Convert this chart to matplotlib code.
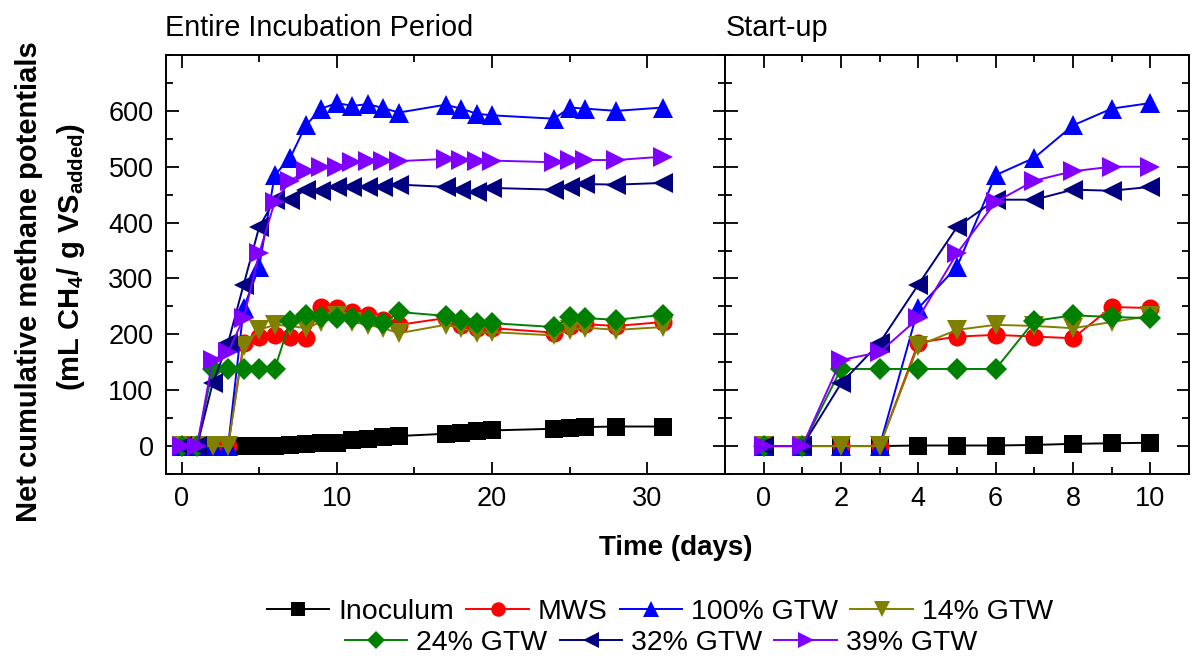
import matplotlib
matplotlib.use('Agg')
import matplotlib.pyplot as plt
from matplotlib.ticker import MultipleLocator

plt.rcParams['font.family'] = ['Liberation Sans', 'DejaVu Sans']
plt.rcParams['mathtext.default'] = 'regular'

# data
days = [0, 1, 2, 3, 4, 5, 6, 7, 8, 9, 10, 11, 12, 13, 14, 17, 18, 19, 20, 24, 25, 26, 28, 31]

inoculum = [0, 0, 0, 0, 1, 1, 1, 2, 4, 5, 6, 11, 12, 16, 18, 22, 24, 27, 28, 31, 32, 34, 35, 35]
mws = [0, 0, 0, 0, 185, 196, 199, 196, 193, 249, 247, 240, 235, 226, 217, 229, 217, 211, 211, 203, 215, 218, 215, 222]
gtw100 = [0, 0, 0, 0, 247, 321, 485, 516, 574, 604, 614, 609, 612, 605, 597, 611, 604, 595, 592, 586, 606, 604, 600, 606]
gtw14 = [0, 0, 0, 0, 180, 208, 217, 215, 211, 222, 233, 222, 217, 211, 202, 217, 211, 203, 204, 198, 208, 212, 208, 213]
gtw24 = [0, 0, 138, 138, 138, 138, 138, 224, 234, 231, 229, 229, 226, 220, 240, 233, 226, 221, 220, 213, 231, 229, 226, 235]
gtw32 = [0, 0, 112, 185, 289, 392, 441, 441, 459, 457, 464, 464, 464, 464, 468, 464, 459, 455, 462, 459, 464, 469, 468, 471]
gtw39 = [0, 0, 154, 168, 229, 345, 437, 475, 492, 500, 500, 508, 510, 510, 510, 514, 512, 511, 511, 508, 512, 512, 512, 518]

series = [
    ('Inoculum', inoculum, 'black', 's'),
    ('MWS', mws, '#ff0000', 'o'),
    ('100% GTW', gtw100, '#0000ff', '^'),
    ('14% GTW', gtw14, '#808000', 'v'),
    ('24% GTW', gtw24, '#008000', 'D'),
    ('32% GTW', gtw32, '#000080', '<'),
    ('39% GTW', gtw39, '#8000ff', '>'),
]
marker_size = {'s': 12.5, 'o': 13, '^': 14.5, 'v': 14.5, 'D': 11.5, '<': 14.5, '>': 14.5}

fig = plt.figure(figsize=(11.93, 6.66), dpi=100)
W, H = 1193, 666
top, bottom = 55, 474
ax1 = fig.add_axes([166 / W, 1 - bottom / H, (725 - 166) / W, (bottom - top) / H])
ax2 = fig.add_axes([725 / W, 1 - bottom / H, (1189 - 725) / W, (bottom - top) / H])

handles = []
n_start = 11  # days 0..10 go in the start-up panel
for label, vals, col, mk in series:
    h, = ax1.plot(days, vals, color=col, marker=mk, ms=marker_size[mk], lw=1.4,
                  markeredgewidth=0, label=label)
    ax2.plot(days[:n_start], vals[:n_start], color=col, marker=mk, ms=marker_size[mk],
             lw=1.4, markeredgewidth=0)
    handles.append(h)

ax1.set_xlim(-1, 35)
ax2.set_xlim(-1, 11)
for ax in (ax1, ax2):
    ax.set_ylim(-50, 700)
    ax.yaxis.set_major_locator(MultipleLocator(100))
    ax.yaxis.set_minor_locator(MultipleLocator(50))
    ax.tick_params(which='both', direction='in', top=True, right=True, width=1.3,
                   labelsize=19.5, pad=9)
    ax.tick_params(which='major', length=9)
    ax.tick_params(which='minor', length=5)
    for sp in ax.spines.values():
        sp.set_linewidth(1.4)

ax1.xaxis.set_major_locator(MultipleLocator(10))
ax1.xaxis.set_minor_locator(MultipleLocator(5))
ax1.set_yticks([0, 100, 200, 300, 400, 500, 600])
ax2.xaxis.set_major_locator(MultipleLocator(2))
ax2.xaxis.set_minor_locator(MultipleLocator(1))
ax2.set_xticks([0, 2, 4, 6, 8, 10])
ax2.set_yticks([0, 100, 200, 300, 400, 500, 600])
ax2.tick_params(axis='y', labelleft=False)

fig.text(165 / W, 1 - 28 / H, 'Entire Incubation Period', fontsize=20.8, ha='left', va='center')
fig.text(726 / W, 1 - 28 / H, 'Start-up', fontsize=20.8, ha='left', va='center')

fig.text(676 / W, 1 - 548 / H, 'Time (days)', fontsize=20, fontweight='bold',
         ha='center', va='center')
fig.text(29 / W, 1 - 282 / H, 'Net cumulative methane potentials', fontsize=21,
         fontweight='bold', rotation=90, ha='center', va='center')
fig.text(71 / W, 1 - 257 / H, r'(mL CH$_4$/ g VS$_{added}$)', fontsize=21,
         fontweight='bold', rotation=90, ha='center', va='center')

leg_kw = dict(frameon=False, fontsize=20.5, handlelength=2.2, handletextpad=0.32,
              columnspacing=0.42, markerscale=0.8, borderaxespad=0, borderpad=0)
fig.legend(handles=handles[:4], ncol=4, loc='center',
           bbox_to_anchor=(660 / W, 1 - 612 / H), **leg_kw)
fig.legend(handles=handles[4:], ncol=3, loc='center',
           bbox_to_anchor=(661 / W, 1 - 643 / H), **leg_kw)

fig.savefig('out.png', dpi=100)
